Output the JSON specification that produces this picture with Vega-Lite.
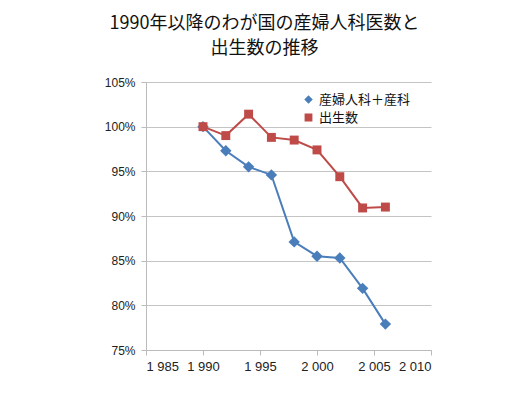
{
  "$schema": "https://vega.github.io/schema/vega-lite/v6.json",
  "width": 285,
  "height": 268,
  "autosize": {"type": "none"},
  "padding": {"left": 146, "top": 82, "right": 99, "bottom": 47},
  "background": "white",
  "title": {
    "text": ["1990年以降のわが国の産婦人科医数と", "出生数の推移"],
    "font": "Noto Sans CJK JP",
    "fontSize": 18,
    "fontWeight": "normal",
    "color": "#111111",
    "lineHeight": 25,
    "anchor": "middle",
    "dx": -24,
    "offset": 18
  },
  "config": {
    "view": {"stroke": null},
    "font": "Noto Sans CJK JP"
  },
  "data": {
    "values": [
      {"year": 1990, "series": "産婦人科＋産科", "value": 1.000},
      {"year": 1992, "series": "産婦人科＋産科", "value": 0.973},
      {"year": 1994, "series": "産婦人科＋産科", "value": 0.955},
      {"year": 1996, "series": "産婦人科＋産科", "value": 0.946},
      {"year": 1998, "series": "産婦人科＋産科", "value": 0.871},
      {"year": 2000, "series": "産婦人科＋産科", "value": 0.855},
      {"year": 2002, "series": "産婦人科＋産科", "value": 0.853},
      {"year": 2004, "series": "産婦人科＋産科", "value": 0.819},
      {"year": 2006, "series": "産婦人科＋産科", "value": 0.779},
      {"year": 1990, "series": "出生数", "value": 1.000},
      {"year": 1992, "series": "出生数", "value": 0.990},
      {"year": 1994, "series": "出生数", "value": 1.014},
      {"year": 1996, "series": "出生数", "value": 0.988},
      {"year": 1998, "series": "出生数", "value": 0.985},
      {"year": 2000, "series": "出生数", "value": 0.974},
      {"year": 2002, "series": "出生数", "value": 0.944},
      {"year": 2004, "series": "出生数", "value": 0.909},
      {"year": 2006, "series": "出生数", "value": 0.910}
    ]
  },
  "encoding": {
    "x": {
      "field": "year",
      "type": "quantitative",
      "scale": {"domain": [1985, 2010], "nice": false, "zero": false},
      "axis": {
        "title": null,
        "grid": false,
        "values": [1985, 1990, 1995, 2000, 2005, 2010],
        "labelExpr": "substring(toString(datum.value),0,1) + ' ' + substring(toString(datum.value),1)",
        "labelFont": "Liberation Sans",
        "labelFontSize": 13,
        "labelColor": "#222222",
        "labelPadding": 5,
        "domainColor": "#bbbbbb",
        "tickColor": "#bbbbbb",
        "tickSize": 5
      }
    },
    "y": {
      "field": "value",
      "type": "quantitative",
      "scale": {"domain": [0.75, 1.05], "nice": false, "zero": false},
      "axis": {
        "title": null,
        "values": [0.75, 0.8, 0.85, 0.9, 0.95, 1.0, 1.05],
        "format": ".0%",
        "labelFont": "Liberation Sans",
        "labelFontSize": 12,
        "labelColor": "#222222",
        "labelPadding": 6,
        "grid": true,
        "gridColor": "#c4c4c4",
        "domainColor": "#bbbbbb",
        "tickColor": "#bbbbbb",
        "tickSize": 5
      }
    },
    "color": {
      "field": "series",
      "type": "nominal",
      "scale": {"domain": ["産婦人科＋産科", "出生数"], "range": ["#4A7EBB", "#BE4B48"]},
      "legend": {
        "title": null,
        "orient": "none",
        "legendX": 156,
        "legendY": 11,
        "labelFont": "Noto Sans CJK JP",
        "labelFontSize": 13,
        "labelColor": "#111111",
        "rowPadding": 4,
        "symbolSize": 40
      }
    },
    "shape": {
      "field": "series",
      "type": "nominal",
      "scale": {"domain": ["産婦人科＋産科", "出生数"], "range": ["diamond", "square"]},
      "legend": null
    }
  },
  "layer": [
    {"mark": {"type": "line", "strokeWidth": 2}},
    {
      "transform": [{"filter": "datum.series === '産婦人科＋産科'"}],
      "mark": {"type": "point", "filled": true, "opacity": 1, "size": 130}
    },
    {
      "transform": [{"filter": "datum.series === '出生数'"}],
      "mark": {"type": "point", "filled": true, "opacity": 1, "size": 80}
    }
  ]
}
